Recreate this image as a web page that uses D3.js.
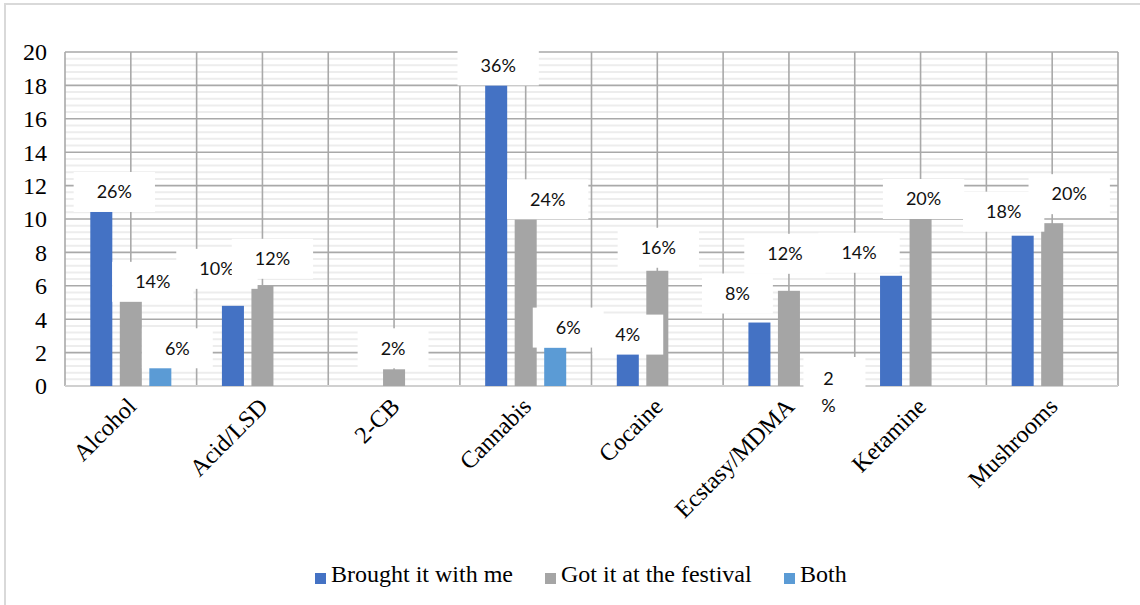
<!DOCTYPE html>
<html>
<head>
<meta charset="utf-8">
<script src="https://cdn.jsdelivr.net/npm/d3@7"></script>
<style>
  html, body { margin: 0; padding: 0; background: #fff; }
  svg { display: block; }
</style>
</head>
<body>
<svg id="chart" width="1140" height="605"></svg>
<script>
// ---------------- data ----------------
const categories = ["Alcohol", "Acid/LSD", "2-CB", "Cannabis", "Cocaine", "Ecstasy/MDMA", "Ketamine", "Mushrooms"];
const seriesNames = ["Brought it with me", "Got it at the festival", "Both"];
const broughtValues  = [10.6, 4.8, null, 18.0, 2.0, 3.8, 6.6, 9.0];
const festivalValues = [5.1, 6.0, 1.0, 10.1, 6.9, 5.7, 10.0, 9.75];
const bothValues     = [1.3, null, null, 2.3, null, 0, null, null];
const broughtLabels  = ["26%", "10%", null, "36%", "4%", "8%", "14%", "18%"];
const festivalLabels = ["14%", "12%", "2%", "24%", "16%", "12%", "20%", "20%"];
const bothLabels     = ["6%", null, null, "6%", null, "2%", null, null];
const yTicks = [0, 2, 4, 6, 8, 10, 12, 14, 16, 18, 20];

// label placement nudges (layout only, px relative to bar centre / bar top)
const broughtNudge  = [[13,-17],[-16,-37],null,[2,-20],[0,-18],[-22,-29],[-32,-23],[-19,-24]];
const festivalNudge = [[22,-19],[10,-27],[-1,-21],[22,-18],[1,-23],[-4,-37],[3,-20],[17,-29]];
const bothNudge     = [[17,-16],null,null,[13,-20],null,[10,-7],null,null];

const colors = ["#4472C4", "#A5A5A5", "#5B9BD5"];

// ---------------- layout ----------------
const svg = d3.select("#chart");
const plot = { left: 65, right: 1118, top: 52, bottom: 386 };
const serif = "'Liberation Serif', 'Times New Roman', serif";

// outer chart frame
svg.append("rect").attr("x", 5).attr("y", 4).attr("width", 1300).attr("height", 800)
  .attr("fill", "#fff").attr("stroke", "#d9d9d9").attr("stroke-width", 2);

const x0 = d3.scaleBand().domain(categories).range([plot.left, plot.right]).paddingInner(0).paddingOuter(0);
const x1 = d3.scaleBand().domain([0, 1, 2]).range([0, x0.bandwidth()]).paddingInner(0.254).paddingOuter(0.857);
const y = d3.scaleLinear().domain([0, 20]).range([plot.bottom, plot.top]);

// minor stripes
const minor = d3.range(0, 20, 0.4).filter(v => Math.abs(v / 2 - Math.round(v / 2)) > 0.01);
svg.append("g").selectAll("line").data(minor).join("line")
  .attr("x1", plot.left).attr("x2", plot.right)
  .attr("y1", d => y(d)).attr("y2", d => y(d))
  .attr("stroke", "#ededed").attr("stroke-width", 2);

// major horizontal gridlines
svg.append("g").selectAll("line").data(yTicks.filter(d => d > 0)).join("line")
  .attr("x1", plot.left).attr("x2", plot.right)
  .attr("y1", d => y(d)).attr("y2", d => y(d))
  .attr("stroke", "#a9a9a9").attr("stroke-width", 1.6);

// vertical gridlines (category edges and centres)
const vLines = [];
categories.forEach(c => { vLines.push(x0(c)); vLines.push(x0(c) + x0.bandwidth() / 2); });
vLines.push(plot.right);
svg.append("g").selectAll("line").data(vLines).join("line")
  .attr("x1", d => d).attr("x2", d => d)
  .attr("y1", plot.top).attr("y2", plot.bottom)
  .attr("stroke", "#a9a9a9").attr("stroke-width", 1.6);

// x axis baseline
svg.append("line").attr("x1", plot.left).attr("x2", plot.right)
  .attr("y1", plot.bottom).attr("y2", plot.bottom)
  .attr("stroke", "#d0d0d0").attr("stroke-width", 2);

// y axis labels
const yAxis = d3.axisLeft(y).tickValues(yTicks).tickSize(0).tickPadding(0);
const yg = svg.append("g").attr("transform", `translate(47,0)`).call(yAxis);
yg.select(".domain").remove();
yg.selectAll("text").attr("font-family", serif)
  .attr("font-size", 24).attr("fill", "#000").attr("dy", "0.33em");

// bars
const allSeries = [broughtValues, festivalValues, bothValues];
const allLabels = [broughtLabels, festivalLabels, bothLabels];
const allNudges = [broughtNudge, festivalNudge, bothNudge];

const barData = [];
allSeries.forEach((vals, s) => vals.forEach((v, i) => {
  if (v !== null) barData.push({ s, i, v, cat: categories[i] });
}));

svg.append("g").selectAll("rect").data(barData.filter(d => d.v > 0)).join("rect")
  .attr("x", d => x0(d.cat) + x1(d.s))
  .attr("width", x1.bandwidth())
  .attr("y", d => y(d.v))
  .attr("height", d => y(0) - y(d.v))
  .attr("fill", d => colors[d.s]);

// data labels with white boxes
const lblFont = "Lato, 'Open Sans', sans-serif";
const lg = svg.append("g");
barData.forEach(d => {
  const txt = allLabels[d.s][d.i];
  const nudge = allNudges[d.s][d.i];
  if (!txt || !nudge) return;
  const cx = x0(d.cat) + x1(d.s) + x1.bandwidth() / 2 + nudge[0];
  const cy = y(d.v) + nudge[1];
  const g = lg.append("g");
  const rect = g.append("rect").attr("fill", "#fff");
  const t = g.append("text").attr("font-family", lblFont).attr("font-size", 18)
    .attr("fill", "#111").attr("text-anchor", "middle");
  if (d.v === 0) {
    // narrow, wrapped label
    t.append("tspan").attr("x", cx).attr("y", cy).attr("dy", "0.35em").text(txt.slice(0, -1));
    t.append("tspan").attr("x", cx).attr("y", cy + 27).attr("dy", "0.35em").text(txt.slice(-1));
    rect.attr("x", cx - 25).attr("y", cy - 22).attr("width", 62).attr("height", 75);
  } else {
    t.attr("x", cx).attr("y", cy).attr("dy", "0.35em").text(txt);
    const w = t.node().getComputedTextLength();
    rect.attr("x", cx - w / 2 - 23).attr("y", cy - 20).attr("width", w + 46).attr("height", 40);
  }
});

// x labels
const xg = svg.append("g");
categories.forEach(c => {
  const cx = x0(c) + x0.bandwidth() / 2;
  xg.append("text")
    .attr("transform", `translate(${cx - 5},${plot.bottom + 10}) rotate(-45)`)
    .attr("text-anchor", "end")
    .attr("dy", "0.7em")
    .attr("font-family", serif)
    .attr("font-size", 24).attr("fill", "#000")
    .text(c);
});

// legend
const legendItems = [
  { name: seriesNames[0], color: colors[0], x: 315 },
  { name: seriesNames[1], color: colors[1], x: 545 },
  { name: seriesNames[2], color: colors[2], x: 784 }
];
const leg = svg.append("g");
legendItems.forEach(it => {
  leg.append("rect").attr("x", it.x).attr("y", 573).attr("width", 11).attr("height", 11).attr("fill", it.color);
  leg.append("text").attr("x", it.x + 16).attr("y", 582)
    .attr("font-family", serif)
    .attr("font-size", 24).attr("fill", "#000").text(it.name);
});
</script>
</body>
</html>
